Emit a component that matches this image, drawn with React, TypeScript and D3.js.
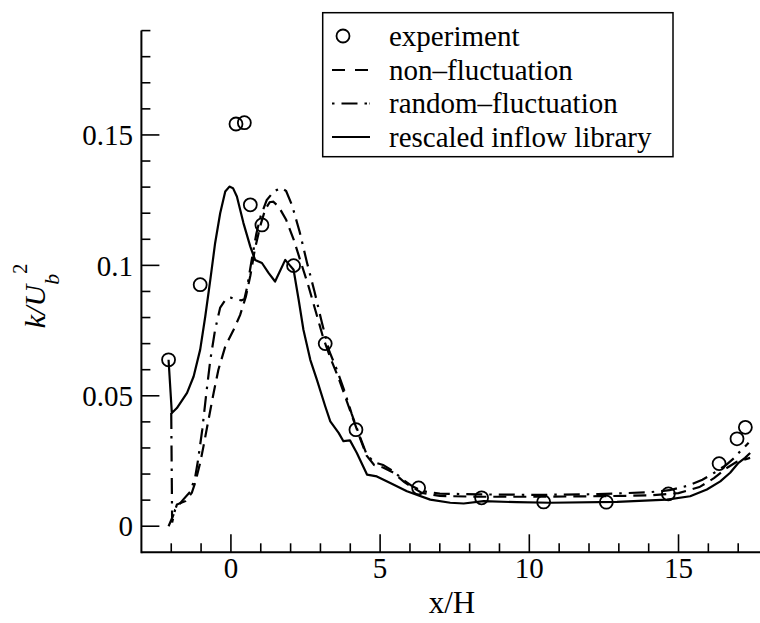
import React from 'react';
import * as d3 from 'd3';

// experiment
const expX = [-2.09, -1.03, 0.17, 0.45, 0.65, 1.04, 2.1, 3.16, 4.19, 6.29, 8.4, 10.48, 12.58, 14.66, 16.36, 16.96, 17.24];
const expY = [0.0638, 0.0926, 0.1542, 0.1547, 0.1232, 0.1155, 0.0999, 0.07, 0.037, 0.0147, 0.0109, 0.0093, 0.0092, 0.0124, 0.024, 0.0335, 0.0379];

// non-fluctuation (dashed)
const nonX = [-2.09, -1.92, -1.81, -1.53, -1.31, -1.2, -1.03, -0.92, -0.75, -0.58, -0.42, -0.19, 0.09, 0.31, 0.5, 0.65, 0.8, 0.98, 1.15, 1.3, 1.42, 1.6, 1.85, 2.1, 2.35, 2.6, 2.85, 3.1, 3.35, 3.6, 3.85, 4.1, 4.35, 4.55, 4.8, 5.1, 5.45, 5.8, 6.1, 6.4, 7.0, 8.3, 10.3, 12.3, 14.0, 15.0, 15.7, 16.2, 16.6, 16.95, 17.4];
const nonY = [0.0, 0.0045, 0.0083, 0.0096, 0.0128, 0.0166, 0.0243, 0.0306, 0.0409, 0.0511, 0.06, 0.0689, 0.0753, 0.081, 0.088, 0.096, 0.106, 0.115, 0.1215, 0.1242, 0.1244, 0.1225, 0.1175, 0.11, 0.101, 0.092, 0.082, 0.072, 0.064, 0.057, 0.049, 0.041, 0.033, 0.027, 0.0235, 0.0225, 0.0205, 0.017, 0.0148, 0.0128, 0.0116, 0.0113, 0.0113, 0.0115, 0.0118, 0.0127, 0.015, 0.0185, 0.0222, 0.0247, 0.0262];

// random-fluctuation (dash-dot)
const rndX = [-2.0, -1.97, -1.87, -1.6, -1.36, -1.2, -1.1, -0.96, -0.83, -0.69, -0.53, -0.36, -0.16, 0.0, 0.15, 0.35, 0.45, 0.55, 0.68, 0.85, 1.0, 1.2, 1.45, 1.7, 1.85, 2.05, 2.3, 2.55, 2.8, 3.05, 3.3, 3.55, 3.8, 4.05, 4.3, 4.55, 4.8, 5.1, 5.45, 5.8, 6.1, 6.4, 7.0, 8.3, 10.3, 12.3, 14.0, 14.7, 15.3, 15.8, 16.2, 16.6, 16.85, 17.05, 17.35];
const rndY = [0.0434, 0.0014, 0.0064, 0.0102, 0.0133, 0.0187, 0.0255, 0.037, 0.0504, 0.0638, 0.0753, 0.0838, 0.0872, 0.0876, 0.087, 0.0866, 0.087, 0.092, 0.101, 0.112, 0.119, 0.125, 0.1285, 0.1297, 0.1285, 0.123, 0.113, 0.101, 0.09, 0.078, 0.067, 0.06, 0.052, 0.043, 0.035, 0.0275, 0.0245, 0.0235, 0.021, 0.0175, 0.0152, 0.0135, 0.0125, 0.0122, 0.012, 0.0123, 0.013, 0.0138, 0.0155, 0.0178, 0.0205, 0.0235, 0.026, 0.0285, 0.032];

// rescaled inflow library (solid)
const resX = [-2.09, -1.98, -1.81, -1.47, -1.25, -1.03, -0.86, -0.69, -0.53, -0.36, -0.19, -0.05, 0.07, 0.2, 0.42, 0.65, 0.81, 1.04, 1.26, 1.48, 1.82, 1.99, 2.1, 2.27, 2.43, 2.66, 2.88, 3.16, 3.33, 3.61, 3.77, 3.99, 4.22, 4.56, 4.89, 5.34, 5.9, 6.68, 7.35, 7.8, 8.47, 9.58, 10.7, 12.94, 14.61, 15.39, 15.95, 16.4, 16.73, 17.01, 17.23, 17.4];
const resY = [0.0638, 0.0434, 0.0453, 0.0511, 0.0574, 0.0677, 0.0804, 0.0945, 0.1085, 0.12, 0.1283, 0.1302, 0.1296, 0.1264, 0.1162, 0.1072, 0.1021, 0.1009, 0.0971, 0.0938, 0.1021, 0.0998, 0.0983, 0.0868, 0.0753, 0.0638, 0.0562, 0.046, 0.0402, 0.0358, 0.0326, 0.0329, 0.0281, 0.0198, 0.0191, 0.0166, 0.0134, 0.0102, 0.009, 0.0087, 0.0096, 0.0092, 0.009, 0.0093, 0.0102, 0.0115, 0.0141, 0.0172, 0.0205, 0.0243, 0.0262, 0.0281];

const xMajor = [0, 5, 10, 15];
const xMinor = d3.range(-2, 18, 1);
const yMajor = [0, 0.05, 0.1, 0.15];
const yMajorLabels = ['0', '0.05', '0.1', '0.15'];
const yMinor = d3.range(0, 20, 1).map((v) => v / 100);

const legendLabels = ['experiment', 'non\u2013fluctuation', 'random\u2013fluctuation', 'rescaled inflow library'];

const FONT = "'Liberation Serif', 'Times New Roman', Times, 'DejaVu Serif', serif";

export default function App() {
  const W = 760;
  const H = 623;
  const x = d3.scaleLinear().domain([-3, 18]).range([141.4, 141.4 + 21 * 29.84]);
  const y = d3.scaleLinear().domain([-0.01, 0.19]).range([552.3, 30.6]);
  const line = d3.line<[number, number]>().x((d) => x(d[0])).y((d) => y(d[1]));
  const zip = (a: number[], b: number[]) => a.map((v, i) => [v, b[i]] as [number, number]);

  const x0 = x(-3);
  const yb = y(-0.01);
  const yt = y(0.19);

  const legX = 322.7, legY = 12.7, legW = 350.3, legH = 144;
  const rowY = [36, 70, 103.5, 137];
  const sampleX1 = 332, sampleX2 = 370, textX = 389;

  return (
    <svg width={W} height={H} style={{ position: 'absolute', left: 0, top: 0, background: '#fff', fontFamily: FONT }}>
      <rect x={0} y={0} width={W} height={H} fill="#fff" />
      {/* curves */}
      <path d={line(zip(resX, resY)) || ''} fill="none" stroke="#000" strokeWidth={2.2} strokeLinejoin="round" />
      <path d={line(zip(nonX, nonY)) || ''} fill="none" stroke="#000" strokeWidth={2.2} strokeDasharray="13 7" />
      <path d={line(zip(rndX, rndY)) || ''} fill="none" stroke="#000" strokeWidth={2.2} strokeDasharray="16 7 2.5 7" />
      {expX.map((v, i) => (
        <circle key={i} cx={x(v)} cy={y(expY[i])} r={6.5} fill="none" stroke="#000" strokeWidth={1.8} />
      ))}

      {/* axes */}
      <line x1={x0} y1={yb} x2={W} y2={yb} stroke="#000" strokeWidth={2} />
      <line x1={x0} y1={yb + 1} x2={x0} y2={yt} stroke="#000" strokeWidth={2} />
      {xMinor.map((v) => (
        <line key={'xm' + v} x1={x(v)} x2={x(v)} y1={yb} y2={yb - (xMajor.includes(v) ? 18 : 9)} stroke="#000" strokeWidth={1.6} />
      ))}
      {yMinor.map((v, i) => (
        <line key={'ym' + i} x1={x0} x2={x0 + (i % 5 === 0 ? 18 : 9)} y1={y(v)} y2={y(v)} stroke="#000" strokeWidth={1.6} />
      ))}
      {xMajor.map((v) => (
        <text key={'xl' + v} x={x(v)} y={578} textAnchor="middle" fontSize={29}>{v}</text>
      ))}
      {yMajor.map((v, i) => (
        <text key={'yl' + i} x={133} y={y(v)} dy="0.35em" textAnchor="end" fontSize={29}>{yMajorLabels[i]}</text>
      ))}

      {/* axis titles */}
      <text x={452} y={613} textAnchor="middle" fontSize={31}>x/H</text>
      <text transform="translate(45,296) rotate(-90)" textAnchor="middle" fontSize={30}>
        <tspan fontStyle="italic">k/U</tspan>
        <tspan fontStyle="italic" fontSize={22} dy={14}>b</tspan>
        <tspan fontSize={20} dy={-32}>2</tspan>
      </text>

      {/* legend */}
      <rect x={legX} y={legY} width={legW} height={legH} fill="#fff" stroke="#000" strokeWidth={1.5} />
      <circle cx={343} cy={rowY[0]} r={6.5} fill="none" stroke="#000" strokeWidth={1.8} />
      <line x1={sampleX1} x2={sampleX2} y1={rowY[1]} y2={rowY[1]} stroke="#000" strokeWidth={2.2} strokeDasharray="13 10" />
      <line x1={sampleX1} x2={sampleX2} y1={rowY[2]} y2={rowY[2]} stroke="#000" strokeWidth={2.2} strokeDasharray="2.5 7 16 7 2.5" />
      <line x1={sampleX1} x2={sampleX2} y1={rowY[3]} y2={rowY[3]} stroke="#000" strokeWidth={2.2} />
      {legendLabels.map((t, i) => (
        <text key={t} x={textX} y={rowY[i]} dy="0.33em" fontSize={29}>{t}</text>
      ))}
    </svg>
  );
}
